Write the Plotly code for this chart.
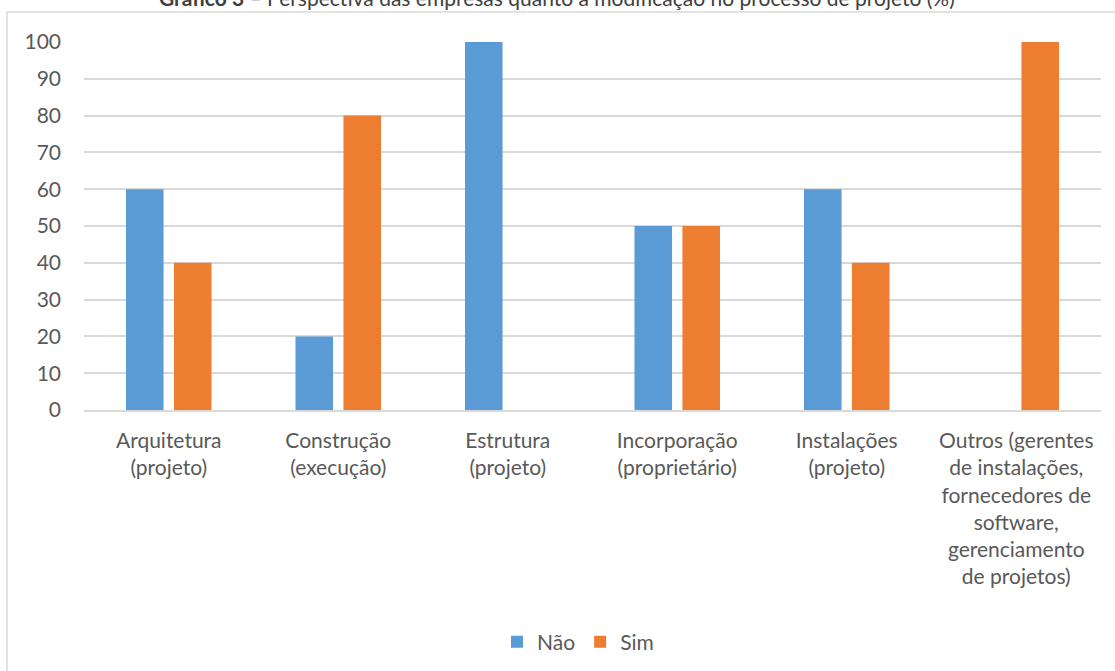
import plotly.graph_objects as go

categories = [
    "Arquitetura<br>(projeto)",
    "Construção<br>(execução)",
    "Estrutura<br>(projeto)",
    "Incorporação<br>(proprietário)",
    "Instalações<br>(projeto)",
    "Outros (gerentes<br>de instalações,<br>fornecedores de<br>software,<br>gerenciamento<br>de projetos)",
]
nao = [60, 20, 100, 50, 60, 0]
sim = [40, 80, 0, 50, 40, 100]
y_ticks = list(range(0, 101, 10))

W, H = 1115, 671
L, R, T, B = 84, 1101, 42, 410
pw, ph = R - L, B - T

def px_x(p):
    return (p - L) / pw

def px_y(p):
    return (B - p) / ph

font_family = "Lato, 'Open Sans', sans-serif"
txt = "#595959"

fig = go.Figure()
fig.add_trace(go.Bar(name="Não", x=categories, y=nao, marker=dict(color="#5B9BD5", line=dict(width=0))))
fig.add_trace(go.Bar(name="Sim", x=categories, y=sim, marker=dict(color="#ED7D31", line=dict(width=0))))

fig.update_layout(
    width=W, height=H,
    margin=dict(l=L, r=W - R, t=T, b=H - B, autoexpand=False),
    paper_bgcolor="white", plot_bgcolor="white",
    barmode="group", bargap=0.434, bargroupgap=0.217,
    font=dict(family=font_family, size=21, color=txt),
    showlegend=True,
    legend=dict(orientation="h", x=px_x(578), xanchor="center", y=px_y(642), yanchor="middle",
                font=dict(size=21, color=txt), itemwidth=30, traceorder="normal"),
    xaxis=dict(showgrid=False, showline=True, linecolor="#d9d9d9", linewidth=1.5,
               ticks="", ticklabelstandoff=11, tickfont=dict(size=21, color=txt), fixedrange=True),
    yaxis=dict(range=[0, 100], tickvals=y_ticks, showgrid=True, gridcolor="#d9d9d9", gridwidth=1.5,
               zeroline=False, showline=False, ticks="", ticklabelstandoff=22,
               tickfont=dict(size=21, color=txt)),
)

fig.add_shape(type="rect", xref="paper", yref="paper",
              x0=px_x(7), x1=px_x(1125), y0=px_y(690), y1=px_y(12),
              line=dict(color="#d9d9d9", width=1.5), layer="below")

fig.add_annotation(xref="paper", yref="paper", x=px_x(557), y=px_y(-2), yanchor="middle",
                   showarrow=False,
                   text="<b>Gráfico 3</b> – Perspectiva das empresas quanto à modificação no processo de projeto (%)",
                   font=dict(size=21, color="#404040"))

fig.write_html("out.html")
